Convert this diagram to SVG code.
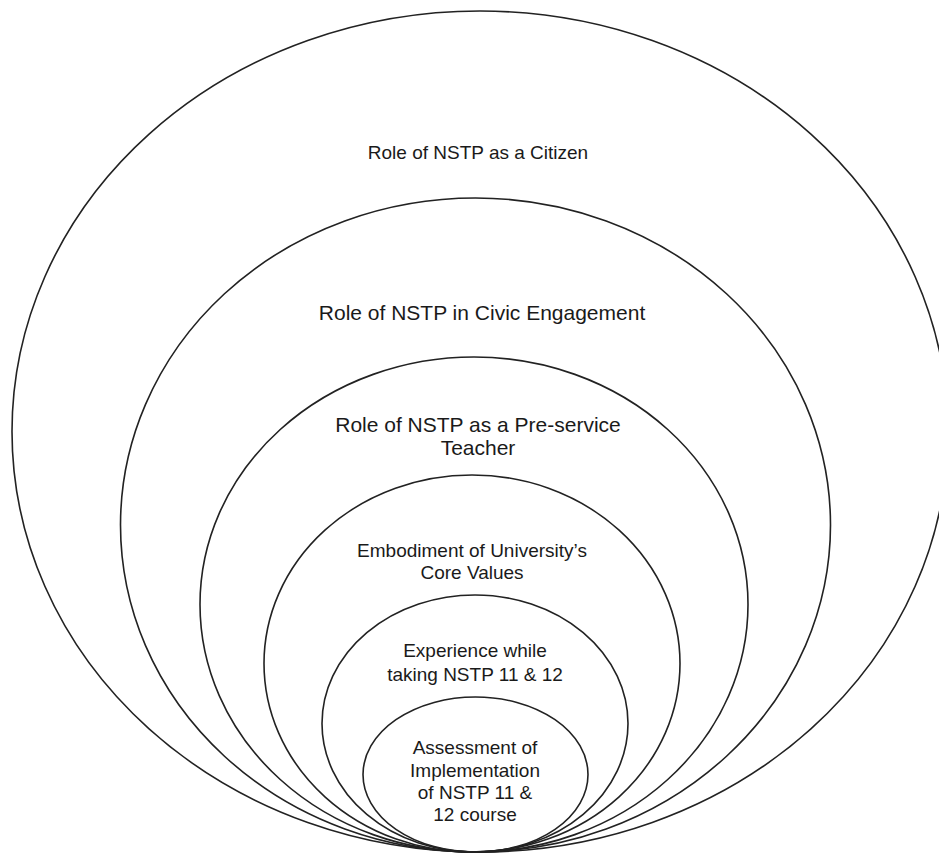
<svg xmlns="http://www.w3.org/2000/svg" width="939" height="854" viewBox="0 0 939 854">
<style>
.ring{fill:none;stroke:#222;stroke-width:1.6}
.lbl{font-family:"Liberation Sans",Arial,sans-serif;fill:#1a1a1a;text-anchor:middle}
</style>
<rect width="939" height="854" fill="#fff"/>
<g id="ring1"><ellipse class="ring" cx="480" cy="431.5" rx="468" ry="420.5"/><text class="lbl" x="478" y="159" font-size="19">Role of NSTP as a Citizen</text></g>
<g id="ring2"><ellipse class="ring" cx="475.5" cy="525" rx="355" ry="327"/><text class="lbl" x="482" y="320" font-size="21">Role of NSTP in Civic Engagement</text></g>
<g id="ring3"><ellipse class="ring" cx="474" cy="604.5" rx="274" ry="247.5"/><text class="lbl" x="478" y="432" font-size="21">Role of NSTP as a Pre-service<tspan x="478" y="455">Teacher</tspan></text></g>
<g id="ring4"><ellipse class="ring" cx="472" cy="663.5" rx="208" ry="188.5"/><text class="lbl" x="472" y="557" font-size="19">Embodiment of University’s<tspan x="472" y="579">Core Values</tspan></text></g>
<g id="ring5"><ellipse class="ring" cx="475" cy="723.5" rx="153" ry="128.5"/><text class="lbl" x="475" y="657" font-size="19">Experience while<tspan x="475" y="681">taking NSTP 11 &amp; 12</tspan></text></g>
<g id="ring6"><ellipse class="ring" cx="475.5" cy="774.5" rx="112.5" ry="77.5"/><text class="lbl" x="475" y="754" font-size="19">Assessment of<tspan x="475" y="777">Implementation</tspan><tspan x="475" y="799">of NSTP 11 &amp;</tspan><tspan x="475" y="821">12 course</tspan></text></g>
</svg>
